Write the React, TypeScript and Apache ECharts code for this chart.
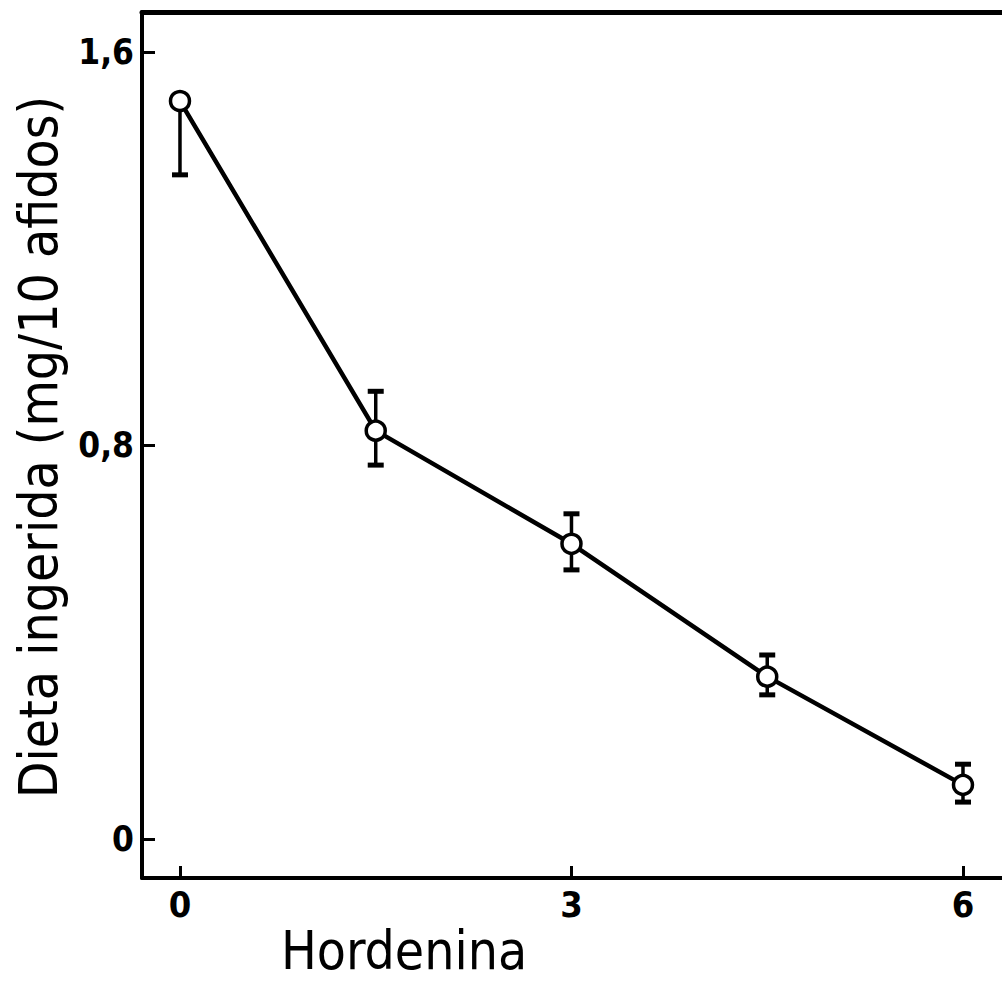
import React, { useEffect, useRef } from "react";
import * as echarts from "echarts";

// Hordenine dose vs. diet ingested per 10 aphids
const doses = [0, 1.5, 3, 4.5, 6];
const intake = [1.5, 0.83, 0.6, 0.33, 0.11];
const errLow = [1.35, 0.76, 0.547, 0.293, 0.075];
const errHigh: (number | null)[] = [null, 0.91, 0.661, 0.374, 0.152];
const xTicks = [0, 3, 6];
const yTicks = [0, 0.8, 1.6];

const FONT = "'DejaVu Sans Condensed', 'DejaVu Sans', sans-serif";

export default function App() {
  const ref = useRef<HTMLDivElement>(null);

  useEffect(() => {
    if (!ref.current) return;
    const chart = echarts.init(ref.current, undefined, { renderer: "svg" });

    const lineData = doses.map((d, i) => [d, intake[i]]);
    const errData = doses.map((d, i) => [
      d,
      errLow[i],
      errHigh[i] == null ? intake[i] : (errHigh[i] as number),
      errHigh[i] == null ? 0 : 1,
    ]);

    const axisCommon = {
      min: -0.291,
      max: 6.299,
    };

    chart.setOption({
      animation: false,
      backgroundColor: "#fff",
      grid: { left: 142, top: 12, right: 0, bottom: 106, containLabel: false },
      xAxis: [
        {
          type: "value",
          ...axisCommon,
          position: "bottom",
          splitLine: { show: false },
          axisLine: { show: true, onZero: false, lineStyle: { color: "#000", width: 4 } },
          axisTick: {
            show: true,
            inside: true,
            length: 12,
            customValues: xTicks,
            lineStyle: { color: "#000", width: 3 },
          },
          axisLabel: {
            show: true,
            customValues: xTicks,
            margin: 8,
            color: "#000",
            fontFamily: FONT,
            fontWeight: "bold",
            fontSize: 36,
            formatter: (v: number) => String(v),
          },
        },
        {
          type: "value",
          ...axisCommon,
          position: "top",
          splitLine: { show: false },
          axisLine: { show: true, onZero: false, lineStyle: { color: "#000", width: 5 } },
          axisTick: { show: false },
          axisLabel: { show: false },
        },
      ],
      yAxis: {
        type: "value",
        min: -0.0793,
        max: 1.681,
        splitLine: { show: false },
        axisLine: { show: true, onZero: false, lineStyle: { color: "#000", width: 4 } },
        axisTick: {
          show: true,
          inside: true,
          length: 13,
          customValues: yTicks,
          lineStyle: { color: "#000", width: 3 },
        },
        axisLabel: {
          show: true,
          customValues: yTicks,
          margin: 8,
          color: "#000",
          fontFamily: FONT,
          fontWeight: "bold",
          fontSize: 35,
          formatter: (v: number) => String(v).replace(".", ","),
        },
      },
      graphic: [
        {
          type: "text",
          x: 38,
          y: 447,
          rotation: Math.PI / 2,
          style: {
            text: "Dieta ingerida (mg/10 afidos)",
            fill: "#000",
            font: `500 53px ${FONT}`,
            textAlign: "center",
            textVerticalAlign: "middle",
          },
        },
        {
          type: "text",
          x: 404,
          y: 950,
          style: {
            text: "Hordenina",
            fill: "#000",
            font: `500 53px ${FONT}`,
            textAlign: "center",
            textVerticalAlign: "middle",
          },
        },
      ],
      series: [
        {
          type: "custom",
          xAxisIndex: 0,
          z: 1,
          data: errData,
          renderItem: (params: any, api: any) => {
            const x = api.value(0);
            const lo = api.coord([x, api.value(1)]);
            const hi = api.coord([x, api.value(2)]);
            const capTop = api.value(3) === 1;
            const half = 8;
            const children: any[] = [
              {
                type: "line",
                shape: { x1: lo[0], y1: lo[1], x2: hi[0], y2: hi[1] },
                style: { stroke: "#000", lineWidth: 3.5 },
              },
              {
                type: "line",
                shape: { x1: lo[0] - half, y1: lo[1], x2: lo[0] + half, y2: lo[1] },
                style: { stroke: "#000", lineWidth: 5 },
              },
            ];
            if (capTop) {
              children.push({
                type: "line",
                shape: { x1: hi[0] - half, y1: hi[1], x2: hi[0] + half, y2: hi[1] },
                style: { stroke: "#000", lineWidth: 5 },
              });
            }
            return { type: "group", children };
          },
        },
        {
          type: "line",
          xAxisIndex: 0,
          z: 3,
          data: lineData,
          symbol: "circle",
          symbolSize: 19,
          lineStyle: { color: "#000", width: 4.5 },
          itemStyle: { color: "#fff", borderColor: "#000", borderWidth: 3.5 },
        },
      ],
    });

    return () => chart.dispose();
  }, []);

  return (
    <div
      ref={ref}
      style={{ position: "absolute", left: 0, top: 0, width: 1002, height: 984 }}
    />
  );
}
